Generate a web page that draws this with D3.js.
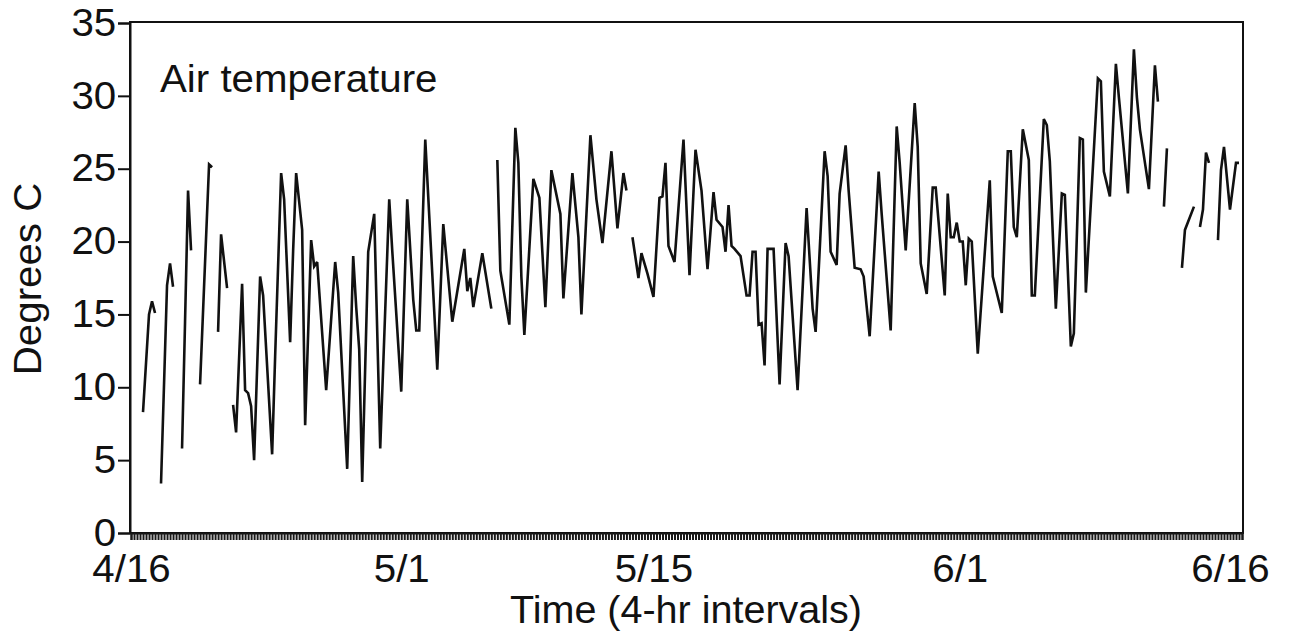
<!DOCTYPE html>
<html>
<head>
<meta charset="utf-8">
<script src="https://cdn.jsdelivr.net/npm/d3@7"></script>
<style>
  html, body { margin: 0; padding: 0; background: #fff; }
  svg { display: block; }
  text { font-family: "Liberation Sans", Arial, Helvetica, sans-serif; fill: #111; }
</style>
</head>
<body>
<svg id="chart" width="1291" height="641"></svg>
<script>
// ---- Data (4-hr interval index from 4/16 00:00, air temperature °C; null = gap in record) ----
const intervalIdx = [
  4,6,7,8, 9,
  10,12,13,14, 15,
  17,18,19,20, 21,
  23,26,27, 28,
  29,30,32, 33,
  34,35,37,38,39,40,41,43,44,47,48,50,51,53,54,55,57,58,60,61,62,65,68,69,72,74,75,76,77,79,81,83,86,87,90,92,94,95,96,98,102,104,107,111,112,113,114,117,120, 121,
  122,123,126,128,129,130,131,134,136,138,140,143,144,147,149,150,153,155,157,160,162,164,165, 166,
  167,169,170,172,174,176,177,178,179,181,184,186,188,190,192,194,195,197,198,199,200,201,203,205,206,207,208,209,210,211,212,214,216,218,219,222,225,227,228,231,232,233,235,236,238,239,241,243,244,246,249,250,253,255,256,258,261,262,263,265,267,268,271,272,273,274,275,276,277,278,279,280,282,286,287,290,292,293,294,295,297,299,300,301,304,305,306,308,310,311,313,314,316,317,318,322,323,324,326,328,329,332,334,335,336,339,341,342, 343,
  344,345, 346,
  350,351,354, 355,
  356,357,358,359, 360,
  362,363,364,366,368,369
];
const tempC = [
  8.3,15.0,15.9,15.1, null,
  3.4,17.0,18.5,16.9, null,
  5.8,14.5,23.5,19.4, null,
  10.2,25.3,25.1, null,
  13.8,20.5,16.8, null,
  8.8,6.9,17.1,9.8,9.6,8.7,5.0,17.6,16.3,5.4,12.1,24.7,22.9,13.1,19.4,24.7,20.8,7.4,20.1,18.3,18.6,9.8,18.6,16.5,4.4,19.0,15.5,12.6,3.5,19.3,21.9,5.8,22.9,19.4,9.7,22.9,16.0,13.9,13.9,27.0,11.2,21.2,14.5,19.5,16.6,17.5,15.5,19.2,15.4, null,
  25.6,18.0,14.3,27.8,25.4,17.6,13.6,24.3,23.0,15.5,24.9,21.9,16.1,24.7,20.3,15.0,27.3,22.9,19.9,26.2,20.9,24.7,23.5, null,
  20.3,17.5,19.2,17.8,16.2,23.0,23.1,25.4,19.7,18.6,27.0,17.7,26.3,23.5,18.1,23.4,21.5,21.0,19.3,22.5,19.7,19.5,19.0,16.3,16.3,19.3,19.3,14.3,14.4,11.5,19.5,19.5,10.2,19.9,19.0,9.8,22.3,15.4,13.8,26.2,24.5,19.3,18.4,23.3,26.6,23.5,18.2,18.1,17.6,13.5,24.8,21.9,13.9,27.9,25.4,19.4,29.5,26.5,18.5,16.4,23.7,23.7,16.3,23.3,20.3,20.3,21.3,20.0,20.0,17.0,20.2,20.0,12.3,24.2,17.6,15.1,26.2,26.2,21.0,20.3,27.7,25.6,16.3,16.3,28.4,28.0,25.5,15.4,23.3,23.2,12.8,13.7,27.1,27.0,16.5,31.2,31.0,24.8,23.1,32.2,29.9,23.3,33.2,29.9,27.7,23.6,32.1,29.6, null,
  22.4,26.4, null,
  18.2,20.8,22.4, null,
  21.0,22.2,26.1,25.4, null,
  20.1,24.9,26.5,22.2,25.4,25.4
];
const dateLabels = ["4/16", "5/1", "5/15", "6/1", "6/16"];
const dateDayOffsets = [0, 15, 29, 46, 61];
const yTicks = [0, 5, 10, 15, 20, 25, 30, 35];
const intervalsPerDay = 6;
const totalIntervals = 370;

// ---- Layout ----
const svg = d3.select("#chart");
const plotL = 130, plotR = 1243, plotT = 22, plotB = 533;
const x = d3.scaleLinear().domain([0, totalIntervals]).range([plotL + 1, plotR - 1]);
const y = d3.scaleLinear().domain([0, 35]).range([plotB, plotT + 1]);
const FS = 38;
const SX = 1.06; // horizontal stretch of the lettering

// frame
svg.append("rect")
  .attr("x", plotL).attr("y", plotT)
  .attr("width", plotR - plotL).attr("height", plotB - plotT)
  .attr("fill", "none").attr("stroke", "#111").attr("stroke-width", 2);

// y axis
const yAxis = svg.append("g").attr("transform", `translate(${plotL},0)`)
  .call(d3.axisLeft(y).tickValues(yTicks).tickSize(12).tickPadding(1).tickFormat(d3.format("d")));
yAxis.select(".domain").attr("stroke", "#111").attr("stroke-width", 2);
yAxis.selectAll(".tick line").attr("stroke", "#111").attr("stroke-width", 2);
yAxis.selectAll(".tick text").attr("font-size", FS).attr("font-family", null).attr("fill", "#111")
  .attr("transform", `scale(${SX},1)`);

// x minor ticks: one per 4-hr interval
const minor = svg.append("g").attr("transform", `translate(0,${plotB})`)
  .call(d3.axisBottom(x).tickValues(d3.range(0, totalIntervals + 1)).tickSize(7).tickFormat(""));
minor.select(".domain").attr("stroke", "#111").attr("stroke-width", 2);
minor.selectAll(".tick line").attr("stroke", "#1a1a1a").attr("stroke-width", 2);

// x date labels
const xAxis = svg.append("g").attr("transform", `translate(0,${plotB})`)
  .call(d3.axisBottom(x)
    .tickValues(dateDayOffsets.map(d => d * intervalsPerDay))
    .tickFormat((d, i) => dateLabels[i])
    .tickSize(0).tickPadding(22));
xAxis.select(".domain").remove();
xAxis.selectAll(".tick text").attr("font-size", FS).attr("font-family", null).attr("fill", "#111")
  .attr("transform", `scale(${SX},1)`);

// data line
const data = intervalIdx.map((i, k) => ({ i: i, t: tempC[k] }));
const line = d3.line()
  .defined(d => d.t !== null)
  .x(d => x(d.i))
  .y(d => y(d.t));
svg.append("path")
  .datum(data)
  .attr("d", line)
  .attr("fill", "none")
  .attr("stroke", "#111")
  .attr("stroke-width", 2.6)
  .attr("stroke-linejoin", "miter")
  .attr("stroke-miterlimit", 3);

// texts
svg.append("g").attr("transform", "translate(160,92)")
  .append("text").attr("transform", `scale(${SX},1)`).attr("font-size", FS).text("Air temperature");
svg.append("g").attr("transform", "translate(41,279) rotate(-90)")
  .append("text").attr("transform", `scale(${SX},1)`)
  .attr("text-anchor", "middle").attr("font-size", FS).text("Degrees C");
svg.append("g").attr("transform", "translate(686,623)")
  .append("text").attr("transform", `scale(1.04,1)`)
  .attr("text-anchor", "middle").attr("font-size", FS).text("Time (4-hr intervals)");
</script>
</body>
</html>
